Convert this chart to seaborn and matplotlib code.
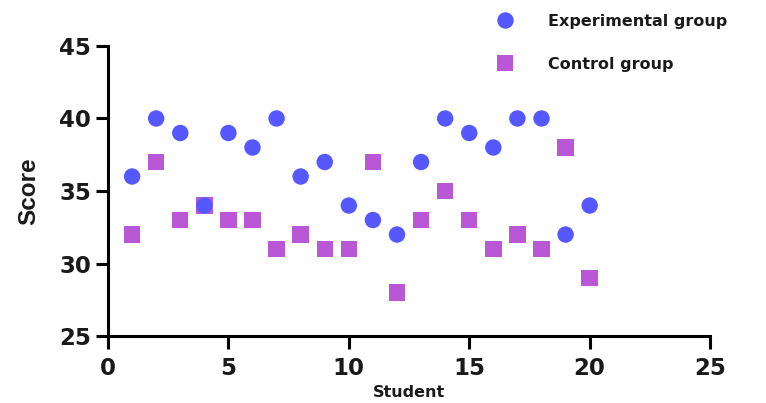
import numpy as np
import pandas as pd
import matplotlib
matplotlib.use("Agg")
import matplotlib.pyplot as plt
import seaborn as sns

students = list(range(1, 21))
experimental = [36, 40, 39, 34, 39, 38, 40, 36, 37, 34, 33, 32, 37, 40, 39, 38, 40, 40, 32, 34]
control = [32, 37, 33, 34, 33, 33, 31, 32, 31, 31, 37, 28, 33, 35, 33, 31, 32, 31, 38, 29]
groups = ["Experimental group", "Control group"]

df = pd.DataFrame({
    "Student": students * 2,
    "Score": control + experimental,
    "Group": [groups[1]] * 20 + [groups[0]] * 20,
})

sns.set_style("white")
plt.rcParams["font.family"] = ["DejaVu Sans"]
plt.rcParams["text.color"] = "#1a1a1a"

fig = plt.figure(figsize=(7.66, 4.03), dpi=100)
ax = fig.add_axes([0.141, 0.166, 0.786, 0.72])

palette = {groups[0]: "#5558ff", groups[1]: "#b957d6"}
markers = {groups[0]: "o", groups[1]: "s"}
sns.scatterplot(data=df, x="Student", y="Score", hue="Group", style="Group",
                hue_order=groups, style_order=groups,
                palette=palette, markers=markers, s=140, linewidth=0, ax=ax)

ax.set_xlim(0, 25)
ax.set_ylim(25, 45)
ax.set_xticks([0, 5, 10, 15, 20, 25])
ax.set_yticks([25, 30, 35, 40, 45])
for side in ["top", "right"]:
    ax.spines[side].set_visible(False)
for side in ["left", "bottom"]:
    ax.spines[side].set_linewidth(2.2)
    ax.spines[side].set_color("black")
ax.tick_params(axis="both", direction="out", length=9, width=2.2, labelsize=16.5,
               left=True, bottom=True, colors="black", labelcolor="#1a1a1a")
ax.tick_params(axis="x", pad=6)
ax.tick_params(axis="y", pad=3)
for lab in ax.get_xticklabels() + ax.get_yticklabels():
    lab.set_fontweight("bold")
ax.set_xlabel("Student", fontsize=11.5, fontweight="bold", labelpad=4, color="#1a1a1a")
ax.set_ylabel("Score", fontsize=17.5, fontweight="bold", labelpad=14, color="#1a1a1a",
              family="Liberation Sans")

ax.get_legend().remove()
handles, labels = ax.get_legend_handles_labels()
leg = fig.legend(handles, labels, loc="upper left", bbox_to_anchor=(0.62, 1.002),
                 frameon=False, labelspacing=1.75, handletextpad=1.65, markerscale=1.0,
                 prop={"size": 11.5, "weight": "bold"})

fig.savefig("out.png", dpi=100)
